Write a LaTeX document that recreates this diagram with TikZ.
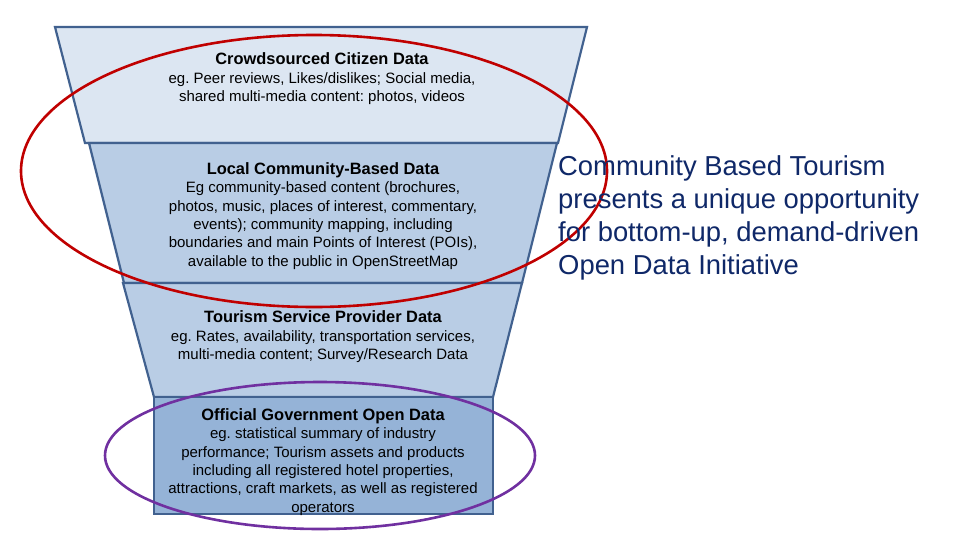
\documentclass[tikz,border=0pt]{standalone}
\usepackage{fontspec}
\setmainfont{Liberation Sans}
\frenchspacing
\definecolor{fillA}{HTML}{DCE6F2}
\definecolor{fillB}{HTML}{B9CDE5}
\definecolor{fillC}{HTML}{95B3D7}
\definecolor{edgeblue}{HTML}{41618F}
\definecolor{ovalred}{HTML}{C00000}
\definecolor{ovalpurple}{HTML}{7030A0}
\definecolor{navy}{HTML}{0F2868}
\tikzset{
  seg/.style={draw=edgeblue, line width=2.2pt, line join=miter},
  boxtext/.style={align=center, inner sep=0pt, text=black, font=\fontsize{15}{18.4}\selectfont},
  oval/.style={line width=2.6pt},
}
\newcommand{\ttl}[1]{{\fontsize{16.4}{18.4}\selectfont\bfseries #1}}
\begin{document}
\begin{tikzpicture}[x=1pt,y=-1pt]
\useasboundingbox (0,0) rectangle (957,536);
% funnel segments
\filldraw[seg, fill=fillA] (55,27) -- (587,27) -- (558,143) -- (85,143) -- cycle;
\filldraw[seg, fill=fillB] (89,143) -- (557,143) -- (522,283) -- (124,283) -- cycle;
\filldraw[seg, fill=fillB] (123,283) -- (522,283) -- (493,397) -- (154,397) -- cycle;
\filldraw[seg, fill=fillC] (154,397) rectangle (493,514);
% texts
\node[boxtext] (crowd) at (322,79) {\ttl{Crowdsourced Citizen Data}\\eg. Peer reviews, Likes/dislikes; Social media,\\shared multi-media content: photos, videos};
\node[boxtext] (local) at (323,216) {\ttl{Local Community-Based Data}\\Eg community-based content (brochures,\\photos, music, places of interest, commentary,\\events); community mapping, including\\boundaries and main Points of Interest (POIs),\\available to the public in OpenStreetMap};
\node[boxtext] (tsp) at (323,337) {\ttl{Tourism Service Provider Data}\\eg. Rates, availability, transportation services,\\multi-media content; Survey/Research Data};
\node[boxtext] (gov) at (323,462) {\ttl{Official Government Open Data}\\eg. statistical summary of industry\\performance; Tourism assets and products\\including all registered hotel properties,\\attractions, craft markets, as well as registered\\operators};
% ellipses
\draw[oval, draw=ovalred] (314,171) ellipse [x radius=293, y radius=136];
\draw[oval, draw=ovalpurple] (320,455.5) ellipse [x radius=215, y radius=73.5];
% right text
\node[anchor=base west, align=left, inner sep=0pt, text=navy, font=\fontsize{27.4}{33}\selectfont] (cbt) at (558,274) {Community Based Tourism\\presents a unique opportunity\\for bottom-up, demand-driven\\Open Data Initiative};
\end{tikzpicture}
\end{document}
